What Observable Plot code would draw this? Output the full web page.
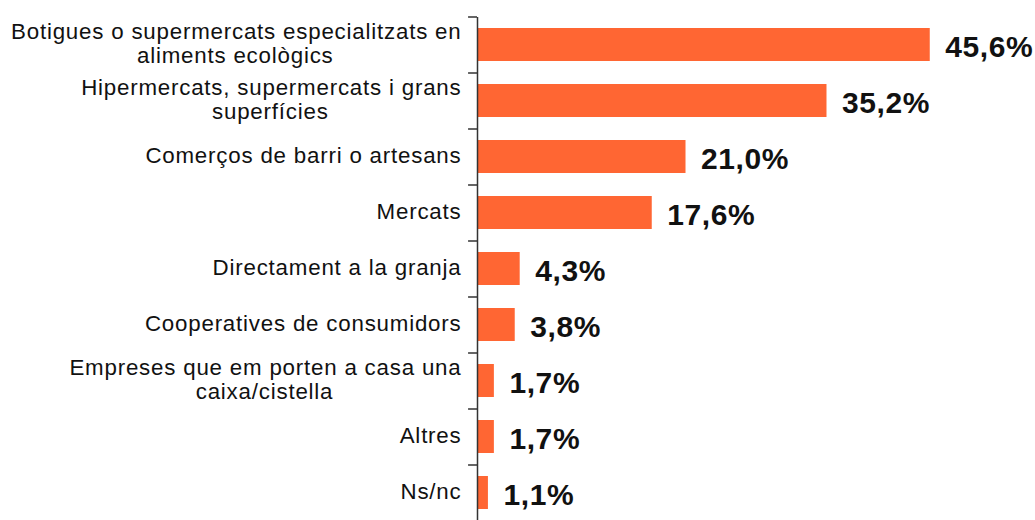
<!DOCTYPE html>
<html>
<head>
<meta charset="utf-8">
<script src="https://cdn.jsdelivr.net/npm/d3@7"></script>
<script src="https://cdn.jsdelivr.net/npm/@observablehq/plot@0.6"></script>
<style>
  body { margin: 0; background: #fff; }
  #chart svg { display: block; }
  #chart .catlab, #chart .catlab text { letter-spacing: 0.8px; }
  #chart .vallab, #chart .vallab text { letter-spacing: 0.6px; }
</style>
</head>
<body>
<div id="chart"></div>
<script>
const categories = [
  "Botigues o supermercats especialitzats en\naliments ecològics",
  "Hipermercats, supermercats i grans\nsuperfícies",
  "Comerços de barri o artesans",
  "Mercats",
  "Directament a la granja",
  "Cooperatives de consumidors",
  "Empreses que em porten a casa una\ncaixa/cistella",
  "Altres",
  "Ns/nc"
];
const values = [45.6, 35.2, 21.0, 17.6, 4.3, 3.8, 1.7, 1.7, 1.1];
const valueLabels = ["45,6%", "35,2%", "21,0%", "17,6%", "4,3%", "3,8%", "1,7%", "1,7%", "1,1%"];

const FONT = "Liberation Sans, Arial, sans-serif";
const LABEL_SIZE = 22.3, LETTER = 0.8, GAP = 17;
const xDomain = [0, 56.2], xRange = [477, 1035];
const pxPerUnit = (xRange[1] - xRange[0]) / (xDomain[1] - xDomain[0]);

const ctx = document.createElement("canvas").getContext("2d");
ctx.font = `${LABEL_SIZE}px ${FONT}`;
const textWidth = s => ctx.measureText(s).width + s.length * LETTER;

const data = categories.map((c, i) => {
  const lines = c.split("\n");
  return {cat: c, value: values[i], label: valueLabels[i], line1: lines[0], line2: lines[1] || null,
          w1: textWidth(lines[0])};
});
const single = data.filter(d => !d.line2);
const dbl = data.filter(d => d.line2);

const chart = Plot.plot({
  width: 1035,
  height: 520,
  marginTop: 17,
  marginBottom: 0,
  marginLeft: 477,
  marginRight: 0,
  style: {fontFamily: FONT, background: "#fff"},
  x: {domain: xDomain, range: xRange, axis: null},
  y: {domain: categories, range: [17, 521], paddingInner: 0.41, paddingOuter: 0.205, axis: null},
  marks: [
    Plot.barX(data, {x: "value", y: "cat", fill: "#FF6633"}),
    Plot.ruleX([0], {stroke: "#333", strokeWidth: 1.5}),
    Plot.ruleY(data, {y: "cat", x1: -0.9, x2: 0, dy: -28, stroke: "#333", strokeWidth: 1.5}),
    Plot.text(single, {
      x: 0, y: "cat", text: "line1", textAnchor: "end", dx: -GAP + 1, dy: -1,
      fontSize: LABEL_SIZE, fill: "#111", className: "catlab"
    }),
    Plot.text(dbl, {
      x: 0, y: "cat", text: "line1", textAnchor: "end", dx: -GAP + 1, dy: -13,
      fontSize: LABEL_SIZE, fill: "#111", className: "catlab"
    }),
    Plot.text(dbl, {
      x: d => -(GAP + d.w1 / 2) / pxPerUnit, y: "cat", text: "line2", textAnchor: "middle", dy: 11,
      fontSize: LABEL_SIZE, fill: "#111", className: "catlab"
    }),
    Plot.text(data, {
      x: "value", y: "cat", text: "label", textAnchor: "start", dx: 15, dy: 2,
      fontSize: 30, fontWeight: "bold", fill: "#111", className: "vallab"
    })
  ]
});
document.getElementById("chart").appendChild(chart);
</script>
</body>
</html>
